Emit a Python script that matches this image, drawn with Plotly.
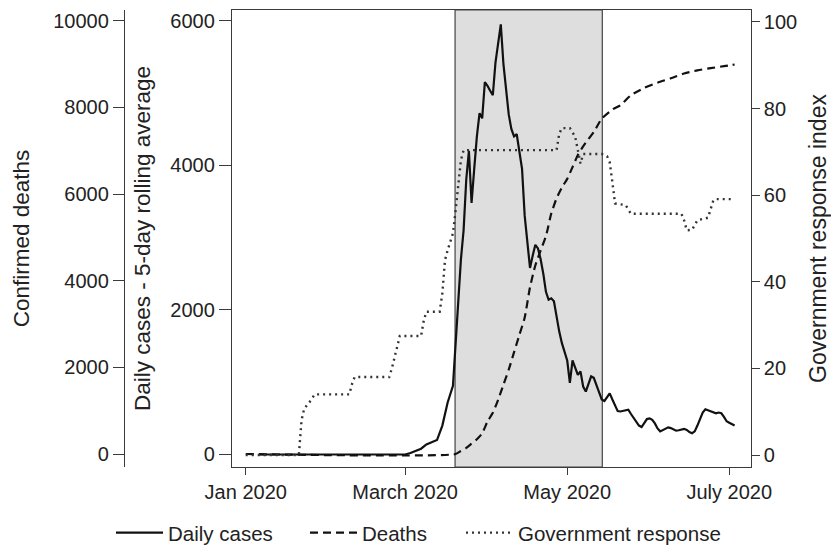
import plotly.graph_objects as go

# ---------------- data ----------------
case_dates = [
    "2020-01-06", "2020-03-01", "2020-03-03", "2020-03-05", "2020-03-07", "2020-03-09",
    "2020-03-11", "2020-03-13", "2020-03-15", "2020-03-17", "2020-03-19", "2020-03-20",
    "2020-03-21", "2020-03-22", "2020-03-23", "2020-03-24", "2020-03-25", "2020-03-26",
    "2020-03-27", "2020-03-28", "2020-03-29", "2020-03-30", "2020-03-31", "2020-04-01",
    "2020-04-02", "2020-04-03", "2020-04-04", "2020-04-05", "2020-04-06", "2020-04-07",
    "2020-04-08", "2020-04-09", "2020-04-10", "2020-04-11", "2020-04-12", "2020-04-13",
    "2020-04-14", "2020-04-15", "2020-04-16", "2020-04-17", "2020-04-18", "2020-04-19",
    "2020-04-20", "2020-04-21", "2020-04-22", "2020-04-23", "2020-04-24", "2020-04-25",
    "2020-04-26", "2020-04-27", "2020-04-28", "2020-04-29", "2020-04-30", "2020-05-01",
    "2020-05-02", "2020-05-03", "2020-05-04", "2020-05-05", "2020-05-06", "2020-05-07",
    "2020-05-08", "2020-05-09", "2020-05-10", "2020-05-11", "2020-05-12", "2020-05-13",
    "2020-05-14", "2020-05-15", "2020-05-16", "2020-05-17", "2020-05-18", "2020-05-19",
    "2020-05-20", "2020-05-21", "2020-05-22", "2020-05-23", "2020-05-24", "2020-05-25",
    "2020-05-26", "2020-05-27", "2020-05-28", "2020-05-29", "2020-05-30", "2020-05-31",
    "2020-06-01", "2020-06-02", "2020-06-03", "2020-06-04", "2020-06-05", "2020-06-06",
    "2020-06-07", "2020-06-08", "2020-06-09", "2020-06-10", "2020-06-11", "2020-06-12",
    "2020-06-13", "2020-06-14", "2020-06-15", "2020-06-16", "2020-06-17", "2020-06-18",
    "2020-06-19", "2020-06-20", "2020-06-21", "2020-06-22", "2020-06-23", "2020-06-24",
    "2020-06-25", "2020-06-26", "2020-06-27", "2020-06-28", "2020-06-29", "2020-06-30",
    "2020-07-01", "2020-07-02", "2020-07-03",
]
daily_cases = [
    0, 0, 20, 45, 80, 140,
    175, 200, 400, 720, 950, 1500,
    2200, 2700, 3100, 3800, 4200, 3480,
    3950, 4400, 4720, 4650, 5150, 5100,
    5030, 4970, 5420, 5700, 5950, 5400,
    5000, 4700, 4500, 4400, 4430, 4200,
    3950, 3300, 2900, 2580, 2750, 2900,
    2850, 2700, 2500, 2250, 2140, 2160,
    2120, 1900, 1700, 1540, 1400, 1300,
    990, 1300, 1200, 1100, 1150, 940,
    870, 980, 1080, 1060, 950, 850,
    760, 740, 800, 845, 760, 680,
    600, 595, 600, 610, 620, 560,
    500, 450, 400, 380, 430, 490,
    500, 480, 430, 360, 320, 340,
    360, 375, 365, 345, 330, 335,
    345, 355, 340, 310, 295, 320,
    400, 500, 580, 625, 610, 590,
    575, 570, 580, 570, 520, 460,
    440, 420, 400,
]

death_dates = [
    "2020-01-01", "2020-03-20", "2020-03-22", "2020-03-24", "2020-03-26", "2020-03-28",
    "2020-03-30", "2020-04-01", "2020-04-03", "2020-04-05", "2020-04-07", "2020-04-09",
    "2020-04-11", "2020-04-13", "2020-04-15", "2020-04-17", "2020-04-19", "2020-04-21",
    "2020-04-23", "2020-04-25", "2020-04-27", "2020-04-29", "2020-05-01", "2020-05-03",
    "2020-05-05", "2020-05-07", "2020-05-09", "2020-05-11", "2020-05-14", "2020-05-18",
    "2020-05-21", "2020-05-25", "2020-05-30", "2020-06-04", "2020-06-09", "2020-06-14",
    "2020-06-19", "2020-06-24", "2020-06-29", "2020-07-03",
]
confirmed_deaths = [
    0, 0, 70, 140, 240, 340,
    480, 750, 950, 1250, 1600, 1950,
    2350, 2750, 3150, 3850, 4350, 4700,
    5030, 5550, 5900, 6150, 6350, 6620,
    6900, 7100, 7270, 7430, 7740, 7950,
    8050, 8280, 8450, 8570, 8670, 8780,
    8855, 8905, 8950, 8990,
]

gov_dates = [
    "2020-01-01", "2020-01-21", "2020-01-22", "2020-01-23", "2020-01-25", "2020-01-27",
    "2020-02-09", "2020-02-10", "2020-02-11", "2020-02-24", "2020-02-25", "2020-02-27",
    "2020-02-28", "2020-03-07", "2020-03-08", "2020-03-09", "2020-03-14", "2020-03-15",
    "2020-03-16", "2020-03-17", "2020-03-18", "2020-03-19", "2020-03-20", "2020-03-21",
    "2020-03-22", "2020-03-23", "2020-04-27", "2020-04-28", "2020-04-29", "2020-05-02",
    "2020-05-04", "2020-05-05", "2020-05-06", "2020-05-07", "2020-05-14", "2020-05-16",
    "2020-05-17", "2020-05-18", "2020-05-19", "2020-05-23", "2020-05-25", "2020-06-13",
    "2020-06-14", "2020-06-15", "2020-06-17", "2020-06-19", "2020-06-23", "2020-06-25",
    "2020-06-26", "2020-07-02",
]
gov_response = [
    0, 0, 8, 10.7, 12.2, 14,
    14, 16.4, 18, 18, 20, 24.6,
    27.5, 27.5, 31, 33.1, 33.1, 37.3,
    45, 47.3, 49, 51.2, 56.5, 62.7,
    68.1, 70.4, 70.4, 74.2, 75.5, 75.5,
    73.5, 70.4, 67.3, 69.5, 69.5, 69.0,
    67.6, 63, 58.1, 57.7, 55.7, 55.7,
    54.2, 51.9, 52.0, 54.2, 54.8, 58.8,
    59.1, 59.1,
]

shade_period = ["2020-03-19 19:00", "2020-05-14 05:00"]

x_tick_dates = ["2020-01-01", "2020-03-01", "2020-05-01", "2020-07-01"]
x_tick_labels = ["Jan 2020", "March 2020", "May 2020", "July 2020"]
cases_ticks = [0, 2000, 4000, 6000]
deaths_ticks = [0, 2000, 4000, 6000, 8000, 10000]
gov_ticks = [0, 20, 40, 60, 80, 100]

# ---------------- figure ----------------
FONT = "Liberation Sans, Arial, sans-serif"
TXT = "#222222"
LINE = "#3a3a3a"
W, H = 831, 547
TICK_SIZE = 20
TITLE_SIZE = 22.5

x0, x1 = 232 / W, 750.7 / W
y0, y1 = 1 - 467 / H, 1 - 10 / H

fig = go.Figure()
fig.add_trace(go.Scatter(
    x=case_dates, y=daily_cases, name="Daily cases", mode="lines",
    line=dict(color="#111111", width=2.2), yaxis="y", legendwidth=132))
fig.add_trace(go.Scatter(
    x=death_dates, y=confirmed_deaths, name="Deaths", mode="lines",
    line=dict(color="#111111", width=2.2, dash="8px,5px", shape="spline", smoothing=0.6),
    yaxis="y2", legendwidth=94))
fig.add_trace(go.Scatter(
    x=gov_dates, y=gov_response, name="Government response", mode="lines",
    line=dict(color="#333333", width=2.4, dash="2px,4px"), yaxis="y3"))

fig.add_shape(type="rect", xref="x", yref="y domain",
              x0=shade_period[0], x1=shade_period[1], y0=0, y1=1,
              fillcolor="#dedede", line=dict(color="#444444", width=1.2),
              layer="below")

common_y = dict(showgrid=False, zeroline=False, showline=True, linecolor=LINE,
                linewidth=1.3, ticks="outside", tickcolor=LINE, tickwidth=1.2,
                tickfont=dict(family=FONT, size=TICK_SIZE, color=TXT), tickformat="d",
                automargin=False)

fig.update_layout(
    width=W, height=H,
    margin=dict(l=0, r=0, t=0, b=0, autoexpand=False),
    paper_bgcolor="white", plot_bgcolor="white",
    font=dict(family=FONT, size=TICK_SIZE, color=TXT),
    showlegend=True,
    legend=dict(orientation="h", x=111 / W, xanchor="left", y=0.026, yanchor="middle",
                font=dict(family=FONT, size=TICK_SIZE + 0.5, color=TXT),
                bgcolor="rgba(0,0,0,0)", traceorder="normal", itemwidth=47),
    xaxis=dict(domain=[x0, x1], type="date",
               range=["2019-12-26 20:00", "2020-07-09 01:30"],
               tickvals=x_tick_dates, ticktext=x_tick_labels,
               showgrid=False, zeroline=False, showline=True, mirror=True,
               linecolor=LINE, linewidth=1.3, ticks="outside", ticklen=7,
               tickcolor=LINE, tickwidth=1.2,
               tickfont=dict(family=FONT, size=TICK_SIZE, color=TXT), automargin=False),
    yaxis=dict(domain=[y0, y1], range=[-173, 6148], tickvals=cases_ticks,
               ticklen=12, mirror=True,
               title=dict(text="Daily cases - 5-day rolling average",
                          font=dict(family=FONT, size=TITLE_SIZE, color=TXT), standoff=13),
               **common_y),
    yaxis2=dict(overlaying="y", side="left", anchor="free", position=124 / W,
                range=[-300, 10247], tickvals=deaths_ticks, ticklen=11,
                title=dict(text="Confirmed deaths",
                           font=dict(family=FONT, size=TITLE_SIZE, color=TXT), standoff=16),
                **common_y),
    yaxis3=dict(overlaying="y", side="right", anchor="x",
                range=[-2.77, 102.77], tickvals=gov_ticks, ticklen=8,
                title=dict(text="Government response index",
                           font=dict(family=FONT, size=TITLE_SIZE + 0.5, color=TXT), standoff=18),
                **common_y),
)

fig.write_html("out.html", config={"displayModeBar": False},
               post_script="document.body.style.margin='0';document.body.style.overflow='hidden';")
